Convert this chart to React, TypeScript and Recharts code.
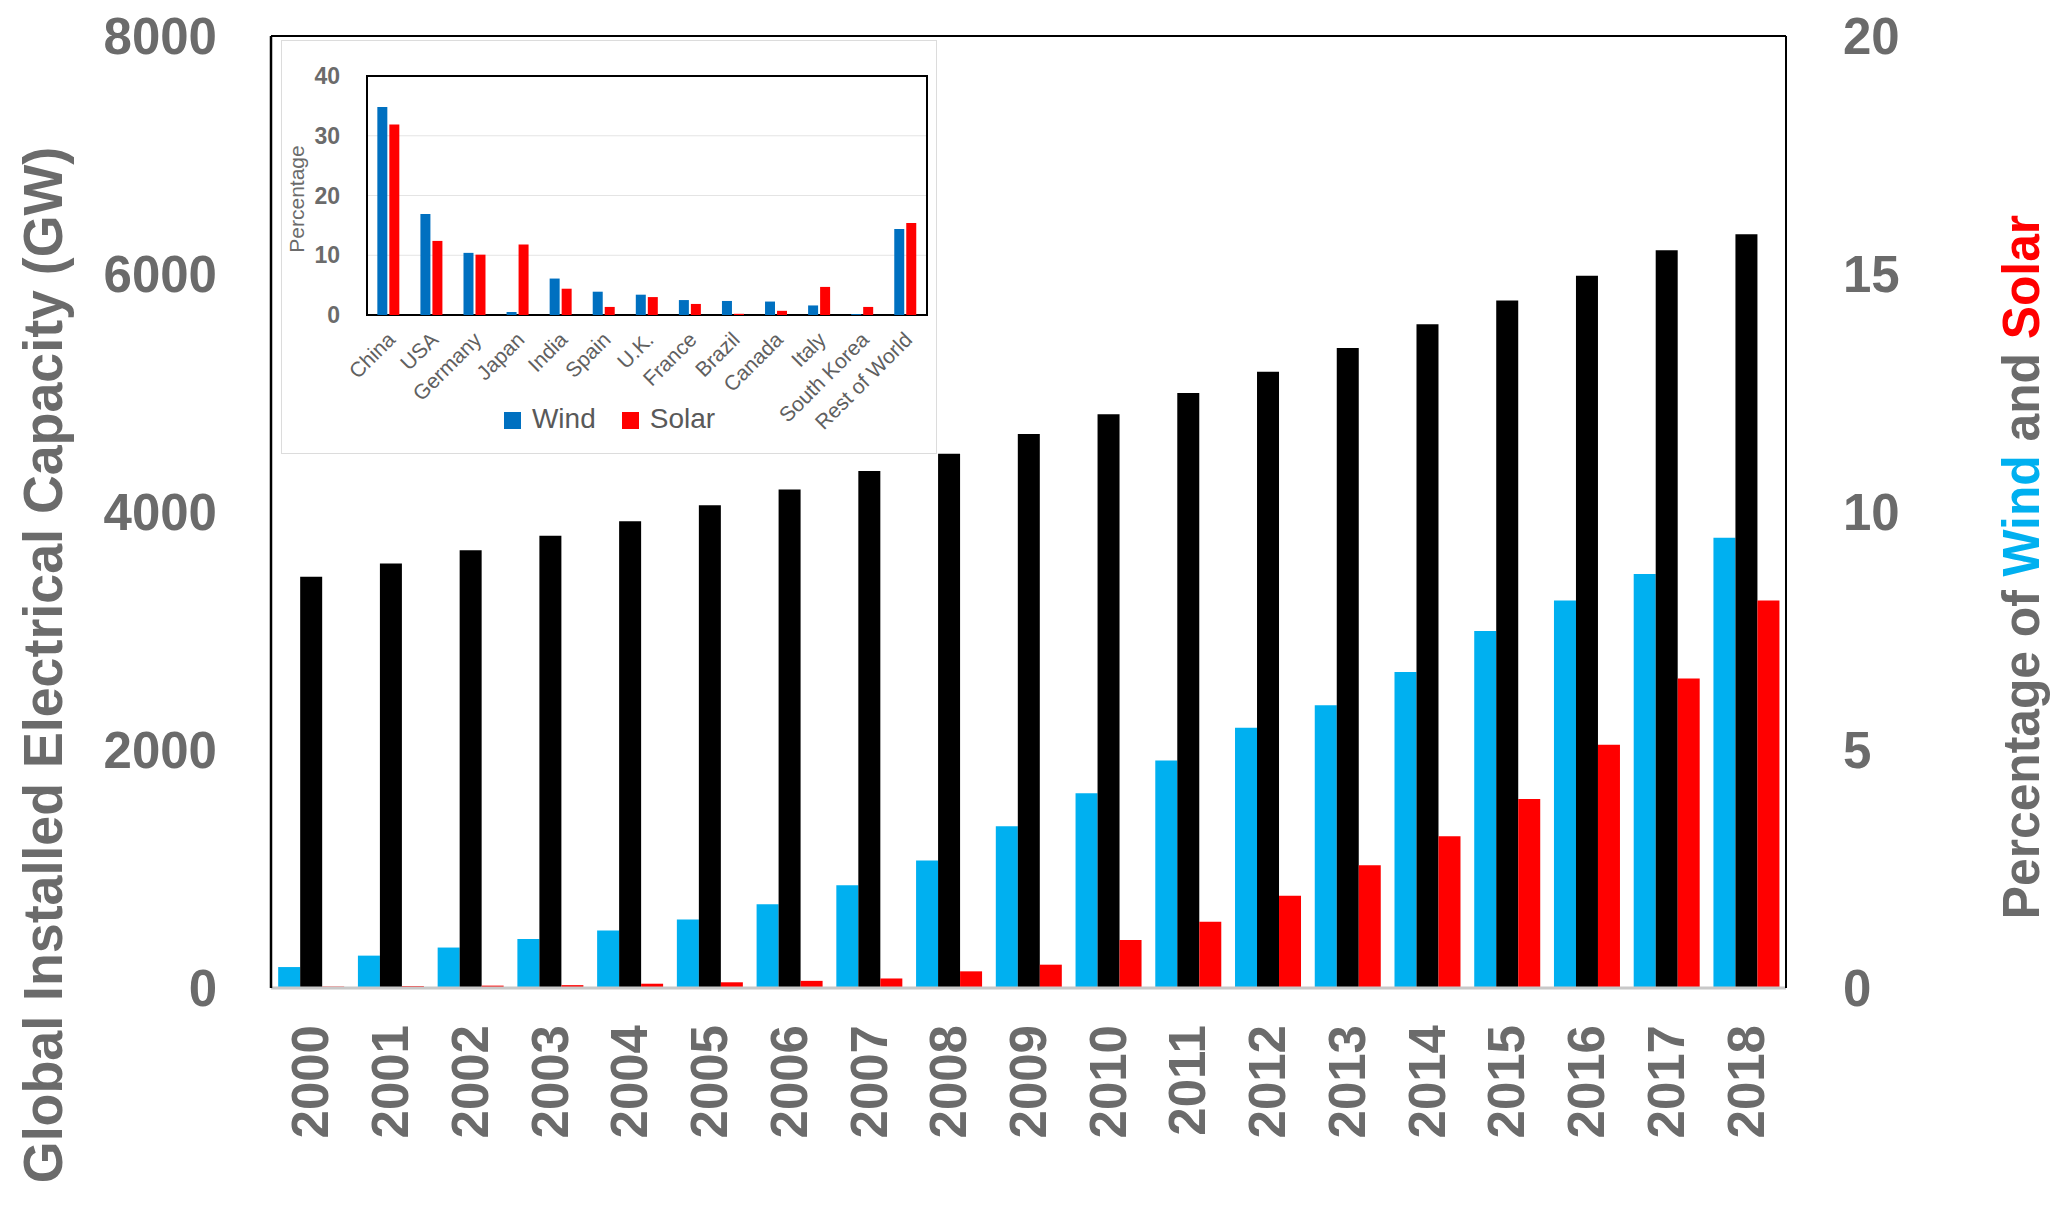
import React from "react";
import {
  BarChart,
  Bar,
  XAxis,
  YAxis,
  Legend,
  CartesianGrid,
  ReferenceArea,
} from "recharts";

// main chart data
const years = [
  "2000", "2001", "2002", "2003", "2004", "2005", "2006", "2007", "2008", "2009",
  "2010", "2011", "2012", "2013", "2014", "2015", "2016", "2017", "2018",
];
const totalCapacityGW = [
  3456, 3567, 3678, 3800, 3922, 4056, 4189, 4344, 4489, 4656,
  4822, 5000, 5178, 5378, 5578, 5778, 5985, 6200, 6335,
];
const windShare = [
  0.44, 0.68, 0.85, 1.03, 1.21, 1.44, 1.76, 2.16, 2.68, 3.4,
  4.09, 4.78, 5.47, 5.94, 6.64, 7.5, 8.14, 8.7, 9.46,
];
const solarShare = [
  0.03, 0.04, 0.05, 0.06, 0.09, 0.12, 0.15, 0.2, 0.35, 0.49,
  1.01, 1.39, 1.94, 2.58, 3.19, 3.97, 5.11, 6.5, 8.14,
];
const leftTicks = [0, 2000, 4000, 6000, 8000];
const rightTicks = [0, 5, 10, 15, 20];

// inset data
const countries = [
  "China", "USA", "Germany", "Japan", "India", "Spain", "U.K.",
  "France", "Brazil", "Canada", "Italy", "South Korea", "Rest of World",
];
const windByCountry = [34.8, 16.9, 10.4, 0.5, 6.1, 3.9, 3.4, 2.5, 2.35, 2.25, 1.6, 0.15, 14.4];
const solarByCountry = [31.9, 12.4, 10.1, 11.8, 4.4, 1.35, 3.0, 1.85, 0.2, 0.7, 4.7, 1.35, 15.4];
const insetTicks = [0, 10, 20, 30, 40];
const insetSeries = ["Wind", "Solar"];

const mainData = years.map((year, i) => ({
  year,
  wind: windShare[i],
  total: totalCapacityGW[i],
  solar: solarShare[i],
}));

const insetData = countries.map((country, i) => ({
  country,
  wind: windByCountry[i],
  solar: solarByCountry[i],
}));

const FONT = "'Liberation Sans', Arial, sans-serif";
const GREY = "#6b6b6b";
const WIND = "#00B0F0";
const SOLAR = "#FF0000";

const bigTick = { fill: GREY, fontSize: 51, fontWeight: 700, fontFamily: FONT };

const YearTick = (props: any) => {
  const { x, y, payload } = props;
  return (
    <text
      x={x}
      y={y}
      transform={`rotate(-90 ${x} ${y})`}
      textAnchor="end"
      dominantBaseline="central"
      fill={GREY}
      fontSize={51}
      fontWeight={700}
      fontFamily={FONT}
    >
      {payload.value}
    </text>
  );
};

const CountryTick = (props: any) => {
  const { x, y, payload } = props;
  const ax = x + 8;
  return (
    <text
      x={ax}
      y={y}
      transform={`rotate(-45 ${ax} ${y})`}
      textAnchor="end"
      fill="#606060"
      fontSize={21}
      fontFamily={FONT}
    >
      {payload.value}
    </text>
  );
};

// axis titles (rotated, slightly condensed)
const LeftTitle = () => (
  <text
    transform="translate(62 665) rotate(-90) scale(0.96 1)"
    textAnchor="middle"
    fill={GREY}
    fontSize={56}
    fontWeight={700}
    fontFamily={FONT}
  >
    Global Installed Electrical Capacity (GW)
  </text>
);

const RightTitle = () => (
  <text
    transform="translate(2039 567) rotate(-90) scale(0.957 1)"
    textAnchor="middle"
    fontSize={52}
    fontWeight={700}
    fontFamily={FONT}
  >
    <tspan fill={GREY}>{"Percentage of "}</tspan>
    <tspan fill={WIND}>Wind</tspan>
    <tspan fill={GREY}>{" and "}</tspan>
    <tspan fill={SOLAR}>Solar</tspan>
  </text>
);

const PercentageTitle = () => (
  <text
    transform="translate(22 158) rotate(-90)"
    textAnchor="middle"
    fill={GREY}
    fontSize={21}
    fontFamily={FONT}
  >
    Percentage
  </text>
);

const renderInsetLegend = (props: any) => {
  const items = [...(props.payload || [])].sort(
    (a: any, b: any) => insetSeries.indexOf(a.value) - insetSeries.indexOf(b.value)
  );
  return (
    <div
      style={{
        display: "flex",
        justifyContent: "center",
        alignItems: "center",
        height: 30,
        paddingLeft: 10,
        gap: 26,
        fontFamily: FONT,
        fontSize: 28,
        color: "#595959",
      }}
    >
      {items.map((entry: any) => (
        <span key={entry.value} style={{ display: "flex", alignItems: "center" }}>
          <span
            style={{
              display: "inline-block",
              width: 17,
              height: 17,
              background: entry.color,
              marginRight: 11,
              marginTop: 3,
            }}
          />
          {entry.value}
        </span>
      ))}
    </div>
  );
};

export default function App() {
  return (
    <div style={{ position: "absolute", left: 0, top: 0, width: 2067, height: 1208, background: "#fff" }}>
      <BarChart
        width={2067}
        height={1208}
        data={mainData}
        margin={{ top: 35, right: 0, bottom: 0, left: 0 }}
        barCategoryGap="9%"
        barGap={0}
      >
        <XAxis
          dataKey="year"
          interval={0}
          height={220}
          tickSize={0}
          tickMargin={37}
          tickLine={false}
          tick={<YearTick />}
          axisLine={{ stroke: "#c8c8c8", strokeWidth: 3 }}
        />
        {/* top border of the plot */}
        <XAxis
          xAxisId="top"
          orientation="top"
          dataKey="year"
          height={1}
          tick={false}
          tickLine={false}
          axisLine={{ stroke: "#000", strokeWidth: 2 }}
        />
        <YAxis
          yAxisId="left"
          width={271}
          domain={[0, 8000]}
          ticks={leftTicks}
          tickSize={0}
          tickMargin={54}
          tickLine={false}
          axisLine={{ stroke: "#000", strokeWidth: 2.5 }}
          tick={bigTick}
          label={LeftTitle}
        />
        <YAxis
          yAxisId="right"
          orientation="right"
          width={281}
          domain={[0, 20]}
          ticks={rightTicks}
          tickSize={0}
          tickMargin={57}
          tickLine={false}
          axisLine={{ stroke: "#000", strokeWidth: 2 }}
          tick={bigTick}
          label={RightTitle}
        />
        <Bar yAxisId="right" dataKey="wind" fill={WIND} isAnimationActive={false} />
        <Bar yAxisId="left" dataKey="total" fill="#000000" isAnimationActive={false} />
        <Bar yAxisId="right" dataKey="solar" fill={SOLAR} isAnimationActive={false} />
      </BarChart>

      {/* inset: share by country */}
      <div
        style={{
          position: "absolute",
          left: 281,
          top: 40,
          width: 656,
          height: 414,
          background: "#fff",
          border: "1px solid #dcdcdc",
          boxSizing: "border-box",
        }}
      >
        <BarChart
          width={654}
          height={412}
          data={insetData}
          margin={{ top: 35, right: 9, bottom: 19, left: 0 }}
          barCategoryGap="24%"
          barGap={2}
        >
          <CartesianGrid vertical={false} stroke="#e4e4e4" />
          <XAxis
            dataKey="country"
            interval={0}
            height={89}
            tickSize={0}
            tickMargin={26}
            tickLine={false}
            axisLine={false}
            tick={<CountryTick />}
          />
          <YAxis
            width={85}
            domain={[0, 40]}
            ticks={insetTicks}
            tickSize={0}
            tickMargin={27}
            tickLine={false}
            axisLine={false}
            tick={{ fill: GREY, fontSize: 23, fontWeight: 700, fontFamily: FONT }}
            label={PercentageTitle}
          />
          <ReferenceArea y1={0} y2={40} stroke="#000" strokeWidth={2} fillOpacity={0} />
          <Legend verticalAlign="bottom" height={30} content={renderInsetLegend} />
          <Bar dataKey="wind" name="Wind" fill="#0070C0" isAnimationActive={false} />
          <Bar dataKey="solar" name="Solar" fill={SOLAR} isAnimationActive={false} />
        </BarChart>
      </div>
    </div>
  );
}
